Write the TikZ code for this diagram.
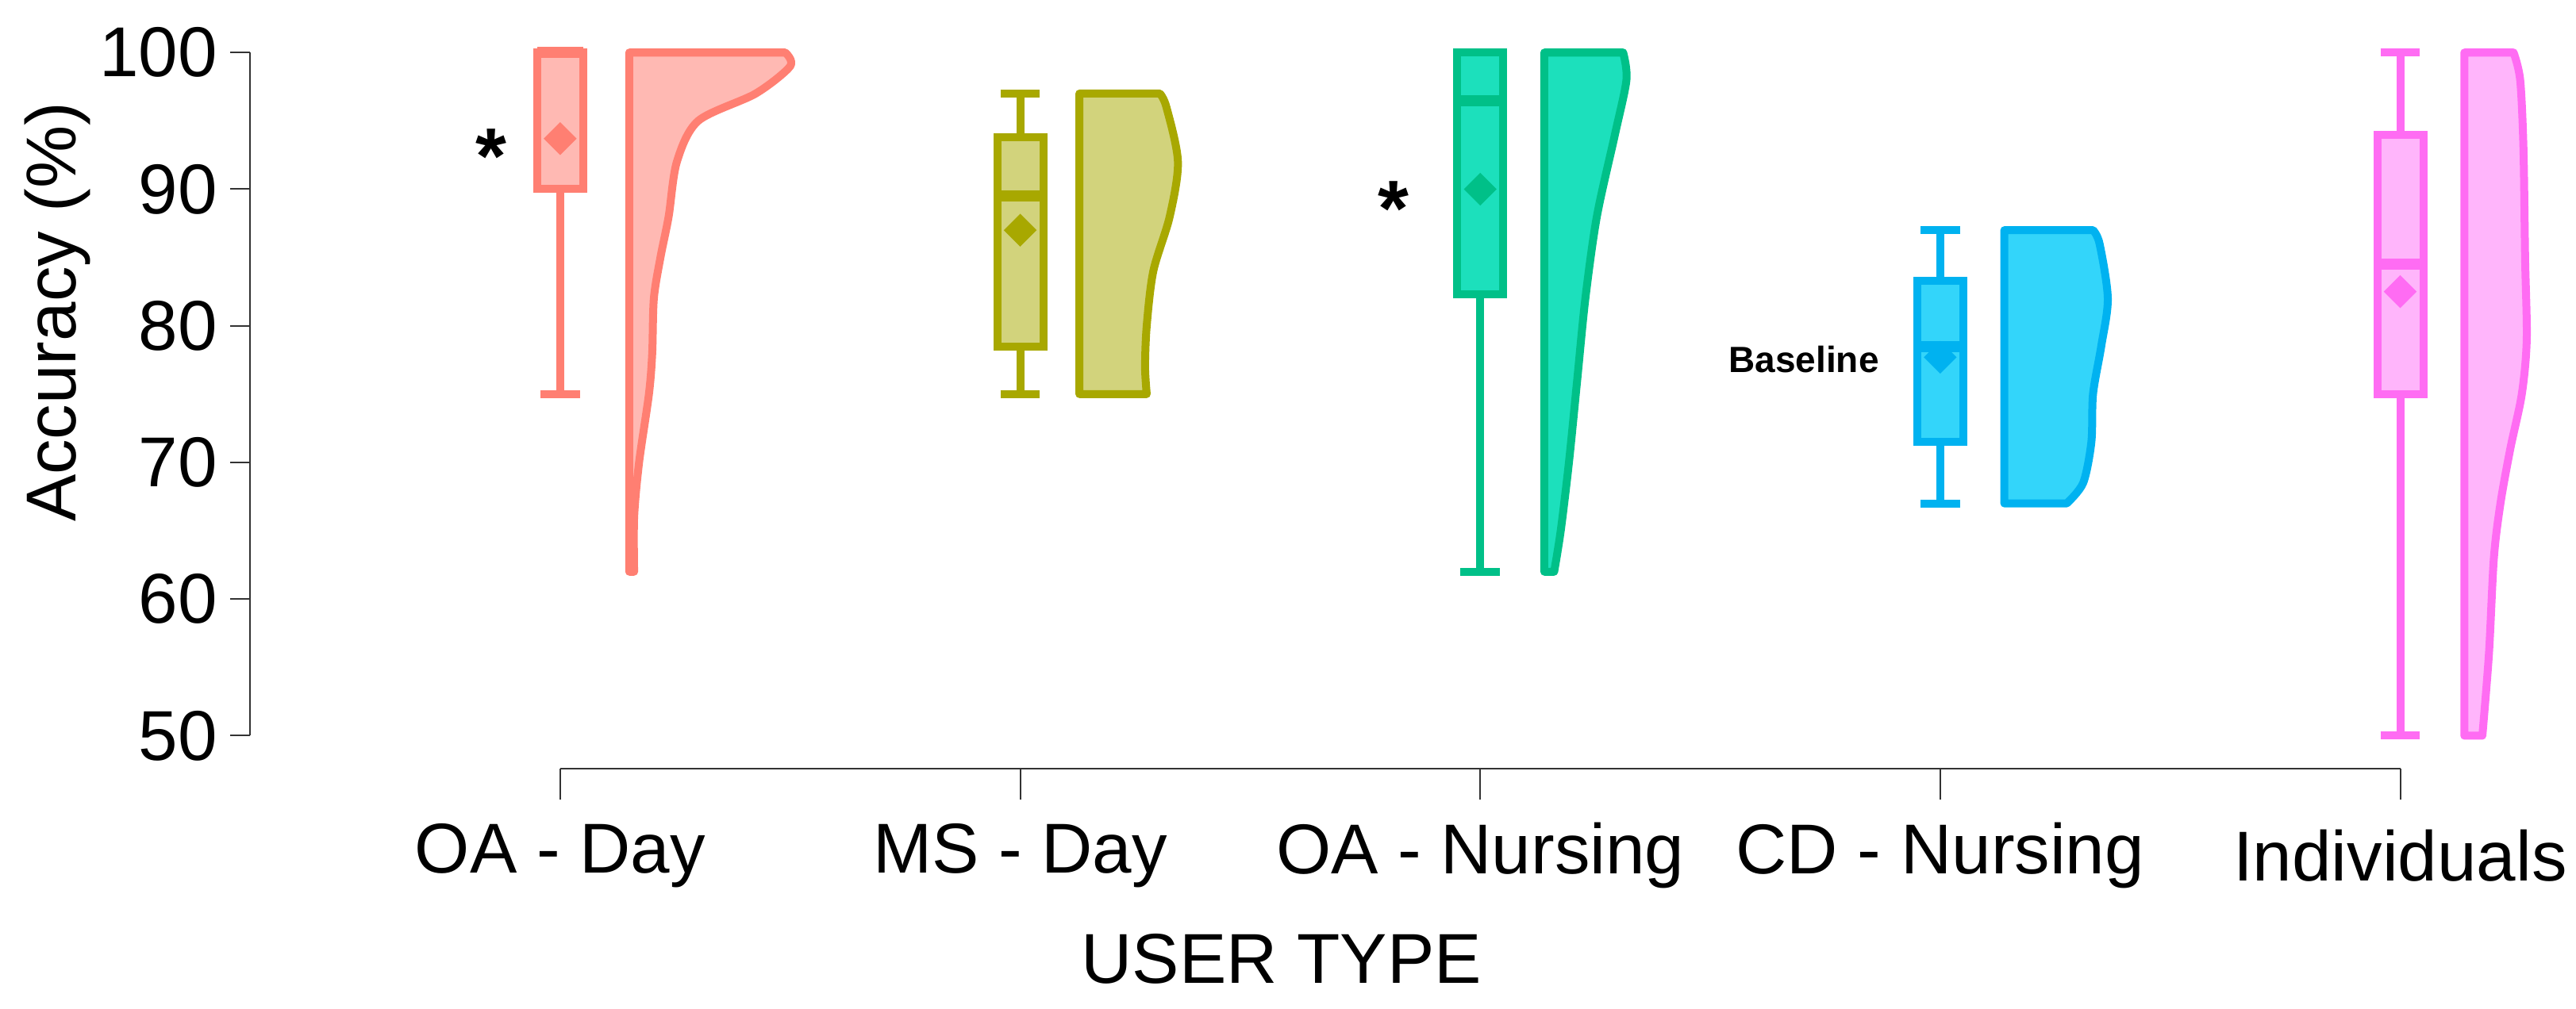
\documentclass[tikz,border=0pt]{standalone}
\usepackage{fontspec}
\setmainfont{Liberation Sans}
\begin{document}
\begin{tikzpicture}[x=2.07pt,y=-2.07pt,
  declare function={vy(\v)=32+(100-\v)*8.32;},
  lw/.style={line width=10pt},
  ax/.style={line width=2pt,black!80},
  tl/.style={font=\fontsize{89}{100}\selectfont},
  vio/.style={lw,draw=#1,line join=round,line cap=round}]
\useasboundingbox (0,0) rectangle (1568,614);
\definecolor{c1}{HTML}{FF7F72}\definecolor{c2}{HTML}{A8A800}\definecolor{c3}{HTML}{00C088}
\definecolor{c4}{HTML}{00B2F0}\definecolor{c5}{HTML}{FF6CF3}
\definecolor{f1}{HTML}{FFB9B3}\definecolor{f2}{HTML}{D2D37C}\definecolor{f3}{HTML}{1CE0BC}
\definecolor{f4}{HTML}{33D5FA}\definecolor{f5}{HTML}{FFB5FB}
% y axis
\draw[ax] (152,{vy(100)}) -- (152,{vy(50)});
\foreach \v in {50,60,...,100}{
  \draw[ax] (140,{vy(\v)}) -- (152,{vy(\v)});
  \node[tl,anchor=east] (yl\v) at (134,{vy(\v)}) {\v};}
\node[tl,rotate=90] (ylab) at (35,190) {Accuracy (\%)};
% x axis
\draw[ax] (341,468) -- (1461,468);
\foreach \c/\n/\t in {341/a/OA - Day,621/b/MS - Day,901/c/OA - Nursing,1181/d/CD - Nursing,1461/e/Individuals}{
  \draw[ax] (\c,468) -- (\c,487);
  \node[tl] (xl\n) at (\c,521) {\t};}
\node[tl] (xlab) at (780,584) {USER TYPE};
% boxes
\foreach \c/\lo/\qa/\md/\qc/\hi/\mn/\col/\fl in {
  341/75/90/100/100/100/93.7/c1/f1,
  621/75/78.5/89.5/93.8/97/87/c2/f2,
  901/62/82.3/96.5/100/100/90/c3/f3,
  1181/67/71.5/78.5/83.3/87/77.7/c4/f4,
  1461/50/75/84.5/94/100/82.5/c5/f5}{
  \draw[lw,\col] (\c,{vy(\hi)}) -- (\c,{vy(\qc)}) (\c,{vy(\qa)}) -- (\c,{vy(\lo)});
  \draw[lw,\col] (\c-12,{vy(\hi)}) -- (\c+12,{vy(\hi)}) (\c-12,{vy(\lo)}) -- (\c+12,{vy(\lo)});
  \draw[lw,\col,fill=\fl] (\c-14,{vy(\qc)}) rectangle (\c+14,{vy(\qa)});
  \draw[line width=14pt,\col] (\c-14,{vy(\md)}) -- (\c+14,{vy(\md)});
  \fill[\col] (\c-10,{vy(\mn)}) -- (\c,{vy(\mn)-10}) -- (\c+10,{vy(\mn)}) -- (\c,{vy(\mn)+10}) -- cycle;
}
% violins
\draw[vio=c1,fill=f1] (383,{vy(100)}) -- plot[smooth] coordinates {
 (478,{vy(100)}) (481,{vy(99)}) (460,{vy(97)}) (425,{vy(95)}) (412,{vy(92)}) (407,{vy(88)}) (402,{vy(85)}) (398,{vy(82)}) (397,{vy(78)}) (395,{vy(75)}) (389,{vy(70)}) (386,{vy(66)}) (386,{vy(62)})} -- (383,{vy(62)}) -- cycle;
\draw[vio=c2,fill=f2] (657,{vy(97)}) -- plot[smooth] coordinates {
 (706,{vy(97)}) (710,{vy(96)}) (717,{vy(92)}) (712,{vy(88)}) (702,{vy(84)}) (698,{vy(80)}) (697,{vy(77)}) (698,{vy(75)})} -- (657,{vy(75)}) -- cycle;
\draw[vio=c3,fill=f3] (940,{vy(100)}) -- plot[smooth] coordinates {
 (988,{vy(100)}) (990,{vy(98)}) (983,{vy(94)}) (972,{vy(88)}) (965,{vy(82)}) (960,{vy(76)}) (955,{vy(70)}) (950,{vy(65)}) (946,{vy(62)})} -- (940,{vy(62)}) -- cycle;
\draw[vio=c4,fill=f4] (1220,{vy(87)}) -- plot[smooth] coordinates {
 (1274,{vy(87)}) (1278,{vy(86)}) (1283,{vy(82)}) (1279,{vy(78.5)}) (1274,{vy(75)}) (1273,{vy(71.5)}) (1268,{vy(68.5)}) (1258,{vy(67)})} -- (1220,{vy(67)}) -- cycle;
\draw[vio=c5,fill=f5] (1500,{vy(100)}) -- plot[smooth] coordinates {
 (1530,{vy(100)}) (1534,{vy(98)}) (1536,{vy(93)}) (1537,{vy(85)}) (1538,{vy(79)}) (1535,{vy(75)}) (1528,{vy(71)}) (1522,{vy(67)}) (1518,{vy(63)}) (1515,{vy(56)}) (1511,{vy(50)})} -- (1500,{vy(50)}) -- cycle;
% labels
\node[font=\fontsize{100}{100}\bfseries\selectfont] (s1) at (299,95) {*};
\node[font=\fontsize{100}{100}\bfseries\selectfont] (s2) at (848,127) {*};
\node[font=\fontsize{46}{50}\bfseries\selectfont] (bl) at (1098,219) {Baseline};
\end{tikzpicture}
\end{document}
